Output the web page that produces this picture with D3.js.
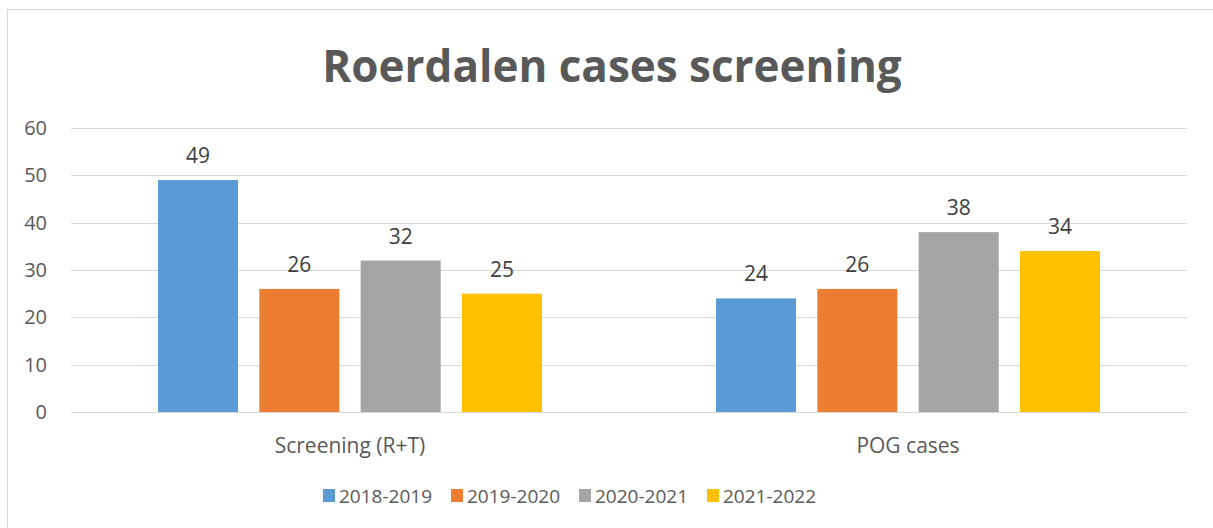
<!DOCTYPE html>
<html>
<head>
<meta charset="utf-8">
<script src="https://cdn.jsdelivr.net/npm/d3@7"></script>
<style>
  body { margin: 0; background: #fff; }
  svg { display: block; font-family: "Open Sans", sans-serif; }
</style>
</head>
<body>
<div id="chart"></div>
<script>
var categories = ["Screening (R+T)", "POG cases"];
var seriesNames = ["2018-2019", "2019-2020", "2020-2021", "2021-2022"];
var seriesColors = ["#5B9BD5", "#ED7D31", "#A5A5A5", "#FFC000"];
// values[series][category]
var values = [
  [49, 24],
  [26, 26],
  [32, 38],
  [25, 34]
];
var yTicks = [0, 10, 20, 30, 40, 50, 60];
var title = "Roerdalen cases screening";

var width = 1213, height = 528;
var plot = { left: 71, right: 1187, top: 128, bottom: 412 };

var svg = d3.select("#chart").append("svg")
    .attr("width", width)
    .attr("height", height);

// outer frame of the chart object
svg.append("rect")
    .attr("x", 7.5).attr("y", 9.5)
    .attr("width", 1230).attr("height", 540)
    .attr("fill", "#fff")
    .attr("stroke", "#d9d9d9");

var y = d3.scaleLinear().domain([0, 60]).range([plot.bottom, plot.top]);
var x0 = d3.scaleBand().domain(categories).range([plot.left, plot.right]).padding(0);
var x1 = d3.scaleBand().domain(seriesNames)
    .range([87, x0.bandwidth() - 87])
    .paddingInner(0.21).paddingOuter(0);

// gridlines
svg.append("g").selectAll("line")
    .data(yTicks)
    .enter().append("line")
    .attr("x1", plot.left).attr("x2", plot.right)
    .attr("y1", function(d) { return Math.round(y(d)) + 0.5; })
    .attr("y2", function(d) { return Math.round(y(d)) + 0.5; })
    .attr("stroke", "#d9d9d9")
    .attr("stroke-width", 1);

// y axis labels
var yAxis = d3.axisLeft(y).tickValues(yTicks).tickSize(0).tickPadding(0);
var gy = svg.append("g")
    .attr("transform", "translate(" + 47 + ",0)")
    .call(yAxis);
gy.select(".domain").remove();
gy.selectAll("text")
    .attr("fill", "#595959")
    .style("font-size", "20px")
    .style("font-family", "'Open Sans', sans-serif");

// bars
var groups = svg.append("g").selectAll("g")
    .data(categories)
    .enter().append("g")
    .attr("transform", function(d) { return "translate(" + x0(d) + ",0)"; });

groups.selectAll("rect")
    .data(function(d, ci) {
      return seriesNames.map(function(s, si) { return { s: s, si: si, v: values[si][ci] }; });
    })
    .enter().append("rect")
    .attr("x", function(d) { return x1(d.s); })
    .attr("y", function(d) { return y(d.v); })
    .attr("width", x1.bandwidth())
    .attr("height", function(d) { return y(0) - y(d.v); })
    .attr("fill", function(d) { return seriesColors[d.si]; });

groups.selectAll("text.val")
    .data(function(d, ci) {
      return seriesNames.map(function(s, si) { return { s: s, si: si, v: values[si][ci] }; });
    })
    .enter().append("text")
    .attr("class", "val")
    .attr("x", function(d) { return x1(d.s) + x1.bandwidth() / 2; })
    .attr("y", function(d) { return y(d.v) - 17; })
    .attr("text-anchor", "middle")
    .attr("fill", "#404040")
    .style("font-size", "21px")
    .text(function(d) { return d.v; });

// category labels
var xAxis = d3.axisBottom(x0).tickSize(0).tickPadding(0);
var gx = svg.append("g")
    .attr("transform", "translate(0," + 438 + ")")
    .call(xAxis);
gx.select(".domain").remove();
gx.selectAll("text")
    .attr("fill", "#595959")
    .style("font-size", "21px")
    .style("font-family", "'Open Sans', sans-serif");

// title
svg.append("text")
    .attr("x", 612)
    .attr("y", 82)
    .attr("text-anchor", "middle")
    .attr("fill", "#595959")
    .style("font-size", "44px")
    .style("font-weight", "bold")
    .text(title);

// legend
var legend = svg.append("g").selectAll("g")
    .data(seriesNames)
    .enter().append("g")
    .attr("transform", function(d, i) { return "translate(" + (323 + i * 128) + ",489)"; });
legend.append("rect")
    .attr("width", 12).attr("height", 13)
    .attr("fill", function(d, i) { return seriesColors[i]; });
legend.append("text")
    .attr("x", 16).attr("y", 14)
    .attr("fill", "#595959")
    .style("font-size", "19px")
    .text(function(d) { return d; });
</script>
</body>
</html>
